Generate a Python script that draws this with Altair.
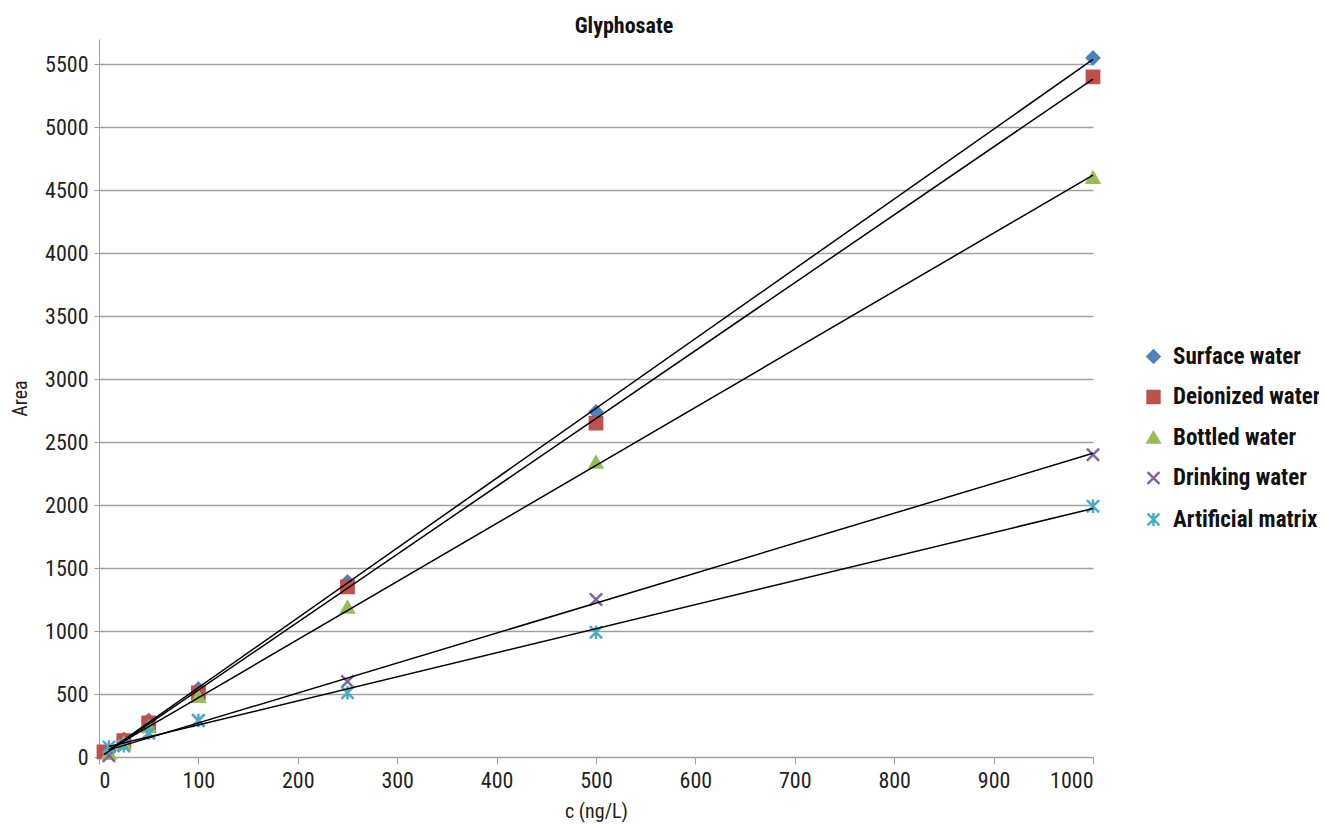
import altair as alt
import pandas as pd

series = ["Surface water", "Deionized water", "Bottled water", "Drinking water", "Artificial matrix"]
colors = ["#4F81BD", "#C0504D", "#9BBB59", "#8064A2", "#4BACC6"]

conc = [10, 25, 50, 100, 250, 500, 1000]
conc_deionized = [5, 25, 50, 100, 250, 500, 1000]
surface = [50, 140, 290, 540, 1390, 2740, 5550]
deionized = [40, 130, 270, 510, 1350, 2650, 5400]
bottled = [30, 110, 240, 480, 1190, 2340, 4600]
drinking = [10, 90, 190, 290, 600, 1250, 2400]
artificial = [80, 90, 190, 290, 510, 990, 1990]

rows = []
for name, xs, ys in [
    ("Surface water", conc, surface),
    ("Deionized water", conc_deionized, deionized),
    ("Bottled water", conc, bottled),
    ("Drinking water", conc, drinking),
    ("Artificial matrix", conc, artificial),
]:
    for x, y in zip(xs, ys):
        rows.append({"series": name, "c": x, "area": y})
df = pd.DataFrame(rows)

FONT = "Roboto Condensed, Liberation Sans Narrow, DejaVu Sans Condensed, Roboto, sans-serif"

x_enc = alt.X("c:Q", title="c (ng/L)", scale=alt.Scale(domain=[0, 1000], nice=False),
              axis=alt.Axis(values=list(range(0, 1001, 100)), format="d", grid=False, tickSize=7,
                            labelFontSize=22, titleFontSize=20, titleFontWeight="normal",
                            domainColor="#a0a0a0", tickColor="#a0a0a0", labelColor="#222",
                            titleColor="#222", labelPadding=6, titlePadding=10))
y_enc = alt.Y("area:Q", title="Area", scale=alt.Scale(domain=[0, 5700], nice=False),
              axis=alt.Axis(values=list(range(0, 5501, 500)), format="d", grid=True, gridColor="#a0a0a0",
                            gridWidth=1.3, tickSize=5, labelFontSize=22, titleFontSize=20,
                            titleFontWeight="normal", domainColor="#a0a0a0", tickColor="#a0a0a0",
                            labelColor="#222", titleColor="#222", labelPadding=6, titlePadding=14))

shape_scale = alt.Scale(
    domain=series,
    range=["diamond", "square", "triangle-up",
           "M-1,-1L1,1M1,-1L-1,1",
           "M-1,-1L1,1M1,-1L-1,1M0,-1.1L0,1.1"],
)
color_scale = alt.Scale(domain=series, range=colors)

legend = alt.Legend(title=None, orient="none", legendX=1043, legendY=306,
                    labelFontSize=23, labelFontWeight="bold", labelColor="#111",
                    symbolSize=140, rowPadding=16.5, labelOffset=8, symbolStrokeWidth=2.5,
                    labelFont=FONT)

points = alt.Chart(df).mark_point(filled=True, size=150, strokeWidth=2.5, opacity=1).encode(
    x=x_enc,
    y=y_enc,
    shape=alt.Shape("series:N", scale=shape_scale, legend=legend, sort=series),
    color=alt.Color("series:N", scale=color_scale, legend=legend, sort=series),
    stroke=alt.Stroke("series:N", scale=color_scale, legend=None, sort=series),
)

lines = alt.Chart(df).transform_regression(
    "c", "area", groupby=["series"]
).mark_line(color="black", strokeWidth=1.5).encode(
    x="c:Q", y="area:Q", detail="series:N"
)

chart = alt.layer(points, lines).properties(
    width=994, height=718,
    title=alt.TitleParams("Glyphosate", fontSize=22, fontWeight="bold", font=FONT,
                          anchor="middle", dx=28, offset=1, color="#111"),
    autosize=alt.AutoSizeParams(type="none"),
    padding={"left": 91, "top": 31, "right": 226, "bottom": 70},
).configure(font=FONT).configure_view(stroke=None)

chart.save("out.html", embed_options={"renderer": "svg", "actions": False})
